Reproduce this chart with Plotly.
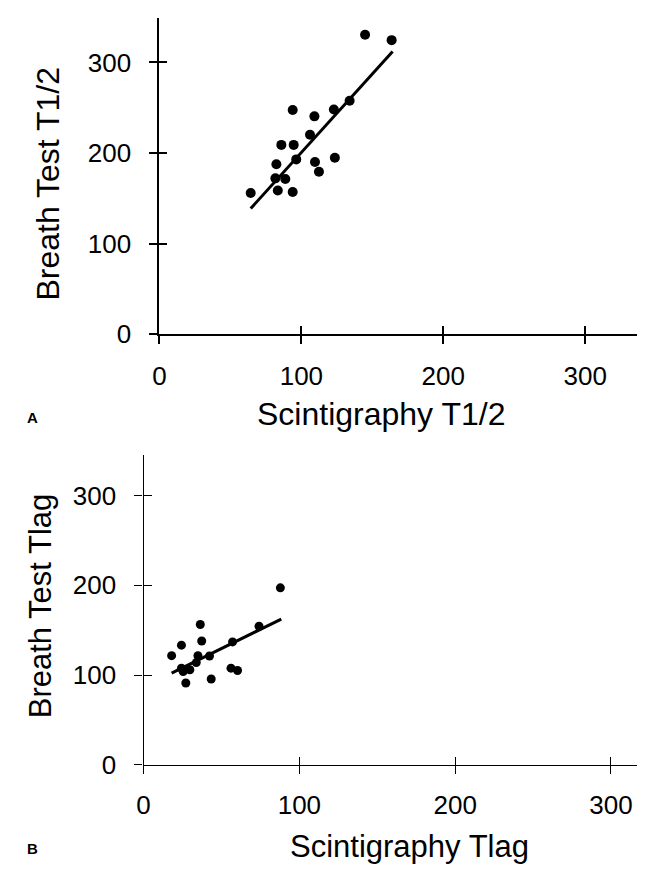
import plotly.graph_objects as go

# panel A: half-emptying time (min)
scint_t12 = [144.9, 163.6, 134.0, 122.9, 93.9, 109.2, 106.1, 85.9, 94.6, 96.4,
             82.4, 109.6, 112.4, 123.6, 81.7, 88.7, 83.4, 93.9, 64.3]
breath_t12 = [330.5, 324.6, 257.8, 248.0, 247.6, 240.5, 220.2, 209.0, 209.0, 193.0,
              187.6, 190.1, 179.3, 194.9, 172.1, 171.4, 158.7, 157.0, 155.9]
fit_a_x = [64.3, 164.3]
fit_a_y = [138.8, 312.0]

# panel B: lag time (min)
scint_tlag = [87.8, 74.1, 36.4, 37.3, 24.3, 57.1, 18.0, 34.9, 42.3, 33.8,
              24.3, 29.7, 25.4, 56.1, 60.3, 43.4, 27.1]
breath_tlag = [197.2, 154.4, 156.3, 138.0, 133.3, 136.9, 121.6, 121.6, 121.2, 113.9,
               107.7, 105.9, 104.0, 107.7, 105.1, 95.6, 91.2]
fit_b_x = [18.0, 88.4]
fit_b_y = [102.2, 162.4]

tick_vals = [0, 100, 200, 300]
FONT = "Liberation Sans, Arial, Helvetica, sans-serif"

W, H = 645, 874


def px_x(p):
    return p / W


def px_y(p):
    return 1 - p / H


fig = go.Figure()
fig.add_scatter(x=scint_t12, y=breath_t12, mode="markers", xaxis="x", yaxis="y",
                marker=dict(color="black", size=10), showlegend=False)
fig.add_scatter(x=fit_a_x, y=fit_a_y, mode="lines", xaxis="x3", yaxis="y3",
                line=dict(color="black", width=3), showlegend=False)
fig.add_scatter(x=scint_tlag, y=breath_tlag, mode="markers", xaxis="x2", yaxis="y2",
                marker=dict(color="black", size=9), showlegend=False)
fig.add_scatter(x=fit_b_x, y=fit_b_y, mode="lines", xaxis="x4", yaxis="y4",
                line=dict(color="black", width=3), showlegend=False)

common = dict(showgrid=False, zeroline=False, tickvals=tick_vals,
              tickfont=dict(family=FONT, size=26, color="black"))

dom_ax = [px_x(146), 1]
dom_ay = [px_y(332), px_y(10)]
rng_ax = [0, (645 - 146) / 1.435]
rng_ay = [0, (332 - 10) / 0.922]

dom_bx = [px_x(130), 1]
dom_by = [px_y(770), px_y(455)]
rng_bx = [0, (645 - 130) / 1.575]
rng_by = [0, (770 - 455) / 0.913]

fig.update_layout(
    width=W, height=H,
    margin=dict(l=0, r=0, t=0, b=0),
    paper_bgcolor="white", plot_bgcolor="rgba(0,0,0,0)",
    xaxis=dict(domain=dom_ax, range=rng_ax, anchor="y", showline=True,
               linecolor="black", linewidth=2, ticks="outside", ticklen=8,
               tickwidth=2, tickcolor="black", ticklabelstandoff=9, **common),
    yaxis=dict(domain=dom_ay, range=rng_ay, anchor="x", showline=True,
               linecolor="black", linewidth=2, ticks="outside", ticklen=8,
               tickwidth=2, tickcolor="black", ticklabelstandoff=13, **common),
    xaxis3=dict(domain=dom_ax, range=rng_ax, anchor="y3", overlaying="x",
                ticks="inside", ticklen=8, tickwidth=2, tickcolor="black",
                showticklabels=False, showgrid=False, zeroline=False, tickvals=tick_vals),
    yaxis3=dict(domain=dom_ay, range=rng_ay, anchor="x3", overlaying="y",
                ticks="inside", ticklen=8, tickwidth=2, tickcolor="black",
                showticklabels=False, showgrid=False, zeroline=False, tickvals=tick_vals),
    xaxis2=dict(domain=dom_bx, range=rng_bx, anchor="y2", showline=True,
                linecolor="black", linewidth=1.3, ticks="outside", ticklen=8,
                tickwidth=1, tickcolor="black", ticklabelstandoff=9, **common),
    yaxis2=dict(domain=dom_by, range=rng_by, anchor="x2", showline=True,
                linecolor="black", linewidth=1.3, ticks="outside", ticklen=8,
                tickwidth=1, tickcolor="black", ticklabelstandoff=13, **common),
    xaxis4=dict(domain=dom_bx, range=rng_bx, anchor="y4", overlaying="x2",
                ticks="inside", ticklen=8, tickwidth=1, tickcolor="black",
                showticklabels=False, showgrid=False, zeroline=False, tickvals=tick_vals),
    yaxis4=dict(domain=dom_by, range=rng_by, anchor="x4", overlaying="y2",
                ticks="inside", ticklen=8, tickwidth=1, tickcolor="black",
                showticklabels=False, showgrid=False, zeroline=False, tickvals=tick_vals),
)

ann = [
    dict(text="Scintigraphy T1/2", x=px_x(370), y=px_y(413), size=32),
    dict(text="Breath Test T1/2", x=px_x(33), y=px_y(179), textangle=-90, size=32),
    dict(text="Scintigraphy Tlag", x=px_x(399), y=px_y(853), size=31),
    dict(text="Breath Test Tlag", x=px_x(26), y=px_y(608), textangle=-90, size=31),
]
for a in ann:
    size = a.pop("size")
    fig.add_annotation(xref="paper", yref="paper", showarrow=False,
                       xanchor="center", yanchor="middle",
                       font=dict(family=FONT, size=size, color="black"), **a)
for lab, yy in [("A", 417), ("B", 855)]:
    fig.add_annotation(text="<b>" + lab + "</b>", xref="paper", yref="paper",
                       x=px_x(18), y=px_y(yy), showarrow=False,
                       xanchor="center", yanchor="middle",
                       font=dict(family=FONT, size=15, color="black"))

fig.write_html("out.html")
